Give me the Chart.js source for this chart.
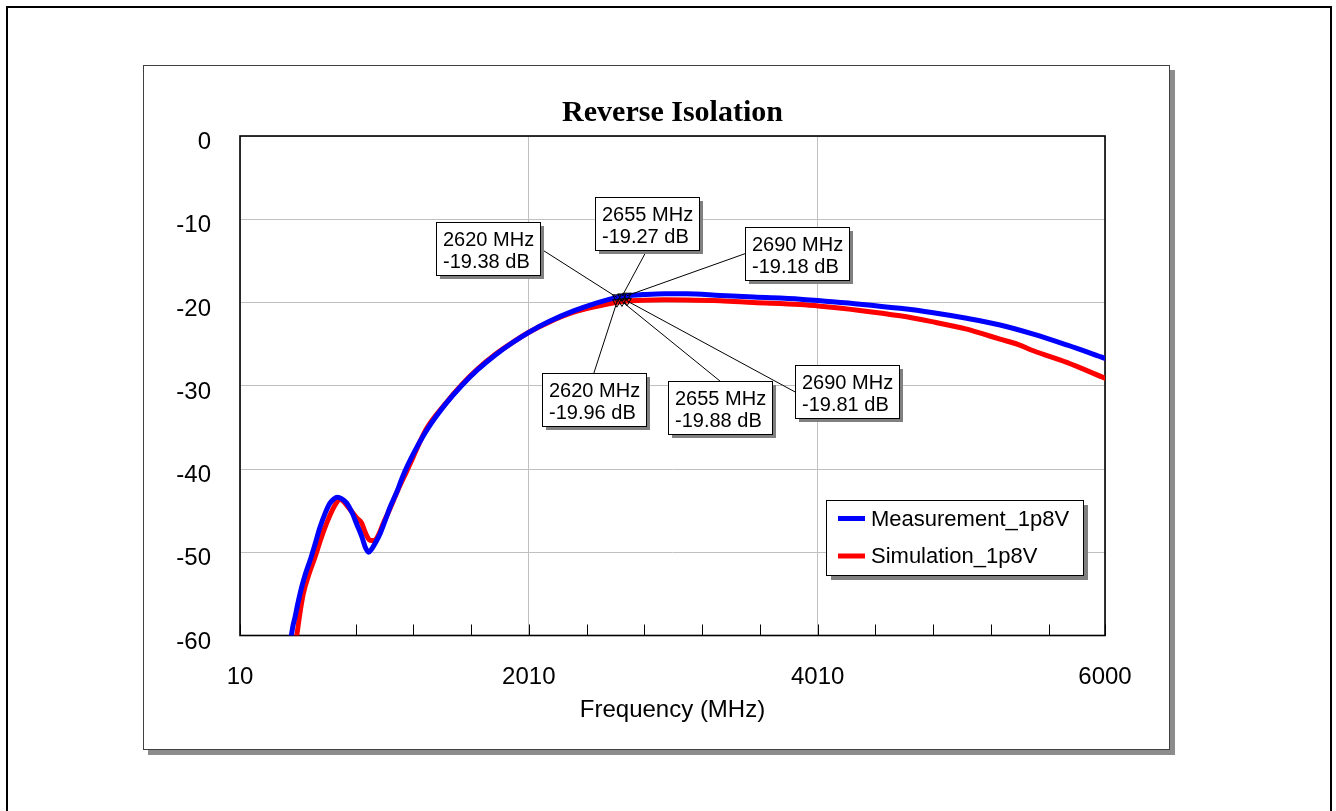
<!DOCTYPE html>
<html>
<head>
<meta charset="utf-8">
<title>Reverse Isolation</title>
<script src="https://cdn.jsdelivr.net/npm/chart.js"></script>
<style>
    body { margin: 0; background: #fff; overflow: hidden; }
    #frame { position: absolute; left: 6px; top: 6px; width: 1322px; height: 830px; border: 2px solid #000; border-bottom: none; }
    #box { position: absolute; left: 143px; top: 65px; width: 1025px; height: 683px; border: 1px solid #404040; box-shadow: 5px 5px 0 #8c8c8c; background: #fff; }
    canvas { display: block; }
</style>
</head>
<body>
<div id="frame"></div>
<div id="box"><canvas id="myChart" width="1025" height="683" style="width:1025px;height:683px"></canvas></div>
<script>
let titleText = 'Reverse Isolation';
let xTitle = 'Frequency (MHz)';
let seriesNames = ['Measurement_1p8V', 'Simulation_1p8V'];
let seriesColors = ['#0000ff', '#ff0000'];

// axis ticks (major every 2000, minor every 400)
let xTicks = [10, 410, 810, 1210, 1610, 2010, 2410, 2810, 3210, 3610, 4010, 4410, 4810, 5210, 5610, 6000];
let xLabelTicks = [10, 2010, 4010, 6000];

// Measurement_1p8V
let measFreq = [350, 375, 391, 410, 437, 465, 495, 530, 564, 600, 633, 660, 684, 715, 749, 785, 818, 855, 880, 900,
    922, 950, 979, 1015, 1049, 1095, 1130, 1170, 1222, 1312, 1430, 1547, 1658, 1776, 1893, 2013, 2157, 2316, 2482,
    2620, 2655, 2690, 2800, 2950, 3100, 3334, 3565, 3890, 4030, 4303, 4580, 4800, 5042, 5273, 5504, 5735, 6000];
let measDb = [-62.0, -59.0, -57.8, -56.2, -54.2, -52.5, -51.0, -49.0, -47.0, -45.3, -44.1, -43.6, -43.4, -43.6, -44.1, -45.2, -46.6, -48.2, -49.5, -50.0,
    -49.6, -48.8, -47.8, -46.2, -44.6, -42.8, -41.2, -39.6, -37.8, -35.1, -32.27, -29.93, -28.04, -26.33, -24.87, -23.55, -22.23, -21.04, -20.04,
    -19.38, -19.27, -19.18, -19.05, -18.95, -18.95, -19.15, -19.35, -19.6, -19.8, -20.2, -20.7, -21.2, -21.9, -22.7, -23.8, -25.1, -26.7];

// Simulation_1p8V
let simFreq = [380, 403, 425, 448, 490, 529, 570, 610, 650, 680, 700, 720, 737, 765, 792, 820, 853, 870, 887, 905,
    922, 940, 957, 980, 1003, 1040, 1072, 1120, 1164, 1208, 1300, 1430, 1547, 1658, 1776, 1893, 2013, 2157, 2316, 2482,
    2620, 2655, 2690, 2800, 2950, 3100, 3334, 3565, 3890, 4030, 4303, 4580, 4800, 5042, 5150, 5273, 5400, 5504, 5735, 6000];
let simDb = [-62.0, -60.0, -57.3, -55.0, -52.5, -50.6, -48.4, -46.5, -44.9, -44.0, -43.6, -43.8, -44.1, -44.7, -45.3, -45.9, -46.5, -47.3, -48.0, -48.5,
    -48.6, -48.6, -48.3, -47.5, -46.5, -45.1, -43.8, -41.9, -40.3, -38.6, -35.2, -32.2, -29.85, -27.95, -26.25, -24.85, -23.55, -22.3, -21.2, -20.45,
    -19.96, -19.88, -19.81, -19.72, -19.68, -19.7, -19.8, -20.0, -20.25, -20.45, -20.95, -21.6, -22.3, -23.2, -23.75, -24.4, -25.05, -25.8, -27.2, -29.1];

// markers
let markerFreq = [2620, 2655, 2690];
let measMarkerDb = [-19.38, -19.27, -19.18];
let simMarkerDb = [-19.96, -19.88, -19.81];

// where each marker label box sits, relative to its point (px)
let measLabelSpots = [
    { dx: -129, dy: -49, side: 'right' },
    { dx: 25, dy: -73, side: 'bottom' },
    { dx: 170, dy: -42, side: 'left' }
];
let simLabelSpots = [
    { dx: -23, dy: 97, side: 'top' },
    { dx: 98, dy: 106, side: 'top' },
    { dx: 220, dy: 91, side: 'left' }
];

let sans = '"Liberation Sans", Arial, sans-serif';

function toPoints(fs, vs) {
    return fs.map((f, i) => ({ x: f, y: vs[i] }));
}

function drawLabel(ctx, px, py, spot, lines) {
    let w = 104, h = 53;
    let cx = px + spot.dx, cy = py + spot.dy;
    let l = Math.round(cx - w / 2), t = Math.round(cy - h / 2);
    let sx = cx, sy = cy;
    if (spot.side == 'right') {
        sx = l + w;
    } else if (spot.side == 'left') {
        sx = l;
    } else if (spot.side == 'top') {
        sy = t;
    } else {
        sy = t + h;
    }
    ctx.strokeStyle = '#000';
    ctx.lineWidth = 1;
    ctx.beginPath();
    ctx.moveTo(sx, sy);
    ctx.lineTo(px, py);
    ctx.stroke();
    ctx.fillStyle = '#808080';
    ctx.fillRect(l + 4, t + 4, w, h);
    ctx.fillStyle = '#fff';
    ctx.fillRect(l, t, w, h);
    ctx.strokeRect(l + 0.5, t + 0.5, w, h);
    ctx.fillStyle = '#000';
    ctx.font = '20px ' + sans;
    ctx.textAlign = 'left';
    ctx.textBaseline = 'alphabetic';
    ctx.fillText(lines[0], l + 7, t + 24);
    ctx.fillText(lines[1], l + 7, t + 46);
}

let extras = {
    id: 'extras',
    beforeDatasetsDraw(chart) {
        let { ctx, chartArea: a, scales: { x } } = chart;
        ctx.save();
        // inward tick marks on the frequency axis
        ctx.strokeStyle = '#000';
        ctx.lineWidth = 1;
        xTicks.forEach(v => {
            let px = Math.round(x.getPixelForValue(v)) + 0.5;
            ctx.beginPath();
            ctx.moveTo(px, a.bottom);
            ctx.lineTo(px, a.bottom - 11);
            ctx.stroke();
        });
        ctx.lineWidth = 1.6;
        ctx.strokeRect(a.left, a.top, a.right - a.left, a.bottom - a.top);
        // chart title
        ctx.fillStyle = '#000';
        ctx.font = 'bold 30px "Liberation Serif", "Times New Roman", serif';
        ctx.textAlign = 'center';
        ctx.textBaseline = 'middle';
        ctx.fillText(titleText, (a.left + a.right) / 2, a.top - 23);
        ctx.restore();
    },
    afterDatasetsDraw(chart) {
        let { ctx, chartArea: a, scales: { x, y } } = chart;
        ctx.save();
        markerFreq.forEach((f, i) => {
            drawLabel(ctx, x.getPixelForValue(f), y.getPixelForValue(measMarkerDb[i]), measLabelSpots[i],
                [f + ' MHz', measMarkerDb[i].toFixed(2) + ' dB']);
        });
        markerFreq.forEach((f, i) => {
            drawLabel(ctx, x.getPixelForValue(f), y.getPixelForValue(simMarkerDb[i]), simLabelSpots[i],
                [f + ' MHz', simMarkerDb[i].toFixed(2) + ' dB']);
        });

        // legend box inside the plot
        let lw = 257, lh = 75;
        let ll = Math.round(a.right - 22 - lw), lt = Math.round(a.bottom - 60.5 - lh);
        ctx.fillStyle = '#808080';
        ctx.fillRect(ll + 5, lt + 5, lw, lh);
        ctx.fillStyle = '#fff';
        ctx.fillRect(ll, lt, lw, lh);
        ctx.strokeStyle = '#000';
        ctx.lineWidth = 1;
        ctx.strokeRect(ll + 0.5, lt + 0.5, lw, lh);
        let rows = [lt + 18.5, lt + 56];
        ctx.font = '22px ' + sans;
        ctx.textAlign = 'left';
        ctx.textBaseline = 'middle';
        seriesNames.forEach((name, i) => {
            ctx.strokeStyle = seriesColors[i];
            ctx.lineWidth = 5;
            ctx.beginPath();
            ctx.moveTo(ll + 12, rows[i]);
            ctx.lineTo(ll + 39, rows[i]);
            ctx.stroke();
            ctx.fillStyle = '#000';
            ctx.fillText(name, ll + 45, rows[i] + 1);
        });
        ctx.restore();
    }
};

let config = {
    type: 'line',
    data: {
        datasets: [{
                label: seriesNames[0],
                data: toPoints(measFreq, measDb),
                borderColor: seriesColors[0],
                borderWidth: 5,
                pointRadius: 0,
                cubicInterpolationMode: 'monotone',
                borderJoinStyle: 'round',
                borderCapStyle: 'round'
            },
            {
                label: seriesNames[1],
                data: toPoints(simFreq, simDb),
                borderColor: seriesColors[1],
                borderWidth: 5,
                pointRadius: 0,
                cubicInterpolationMode: 'monotone',
                borderJoinStyle: 'round',
                borderCapStyle: 'round'
            },
            {
                label: 'meas markers',
                data: toPoints(markerFreq, measMarkerDb),
                showLine: false,
                pointStyle: 'triangle',
                rotation: 180,
                pointRadius: 5,
                pointBorderColor: '#000',
                pointBorderWidth: 1,
                pointBackgroundColor: 'rgba(0,0,0,0)',
                order: -1
            },
            {
                label: 'sim markers',
                data: toPoints(markerFreq, simMarkerDb),
                showLine: false,
                pointStyle: 'triangle',
                rotation: 180,
                pointRadius: 5,
                pointBorderColor: '#000',
                pointBorderWidth: 1,
                pointBackgroundColor: 'rgba(0,0,0,0)',
                order: -1
            }
        ]
    },
    options: {
        responsive: false,
        animation: false,
        events: [],
        layout: { padding: { top: 70, right: 64, bottom: 20, left: 0 } },
        plugins: {
            legend: { display: false },
            title: { display: false },
            tooltip: { enabled: false }
        },
        scales: {
            x: {
                type: 'linear',
                min: 10,
                max: 6000,
                afterBuildTicks: s => { s.ticks = xTicks.map(v => ({ value: v })); },
                afterFit: s => { s.height = 93.5; },
                ticks: {
                    autoSkip: false,
                    maxRotation: 0,
                    padding: 27,
                    color: '#000',
                    font: { family: sans, size: 24 },
                    callback: v => xLabelTicks.includes(v) ? String(v) : ''
                },
                grid: {
                    drawTicks: false,
                    lineWidth: 1,
                    color: c => (c.tick && xLabelTicks.includes(c.tick.value)) ? '#c0c0c0' : 'rgba(0,0,0,0)'
                },
                border: { display: false },
                title: {
                    display: true,
                    text: xTitle,
                    color: '#000',
                    font: { family: sans, size: 24 },
                    padding: { top: 0, bottom: 4 }
                }
            },
            y: {
                min: -60,
                max: 0,
                afterFit: s => { s.width = 96; },
                ticks: {
                    stepSize: 10,
                    padding: 29,
                    labelOffset: 6.5,
                    color: '#000',
                    font: { family: sans, size: 24 }
                },
                grid: { drawTicks: false, color: '#c0c0c0', lineWidth: 1 },
                border: { display: false }
            }
        }
    },
    plugins: [extras]
};

let myChart = new Chart(document.getElementById('myChart'), config);
</script>
</body>
</html>
